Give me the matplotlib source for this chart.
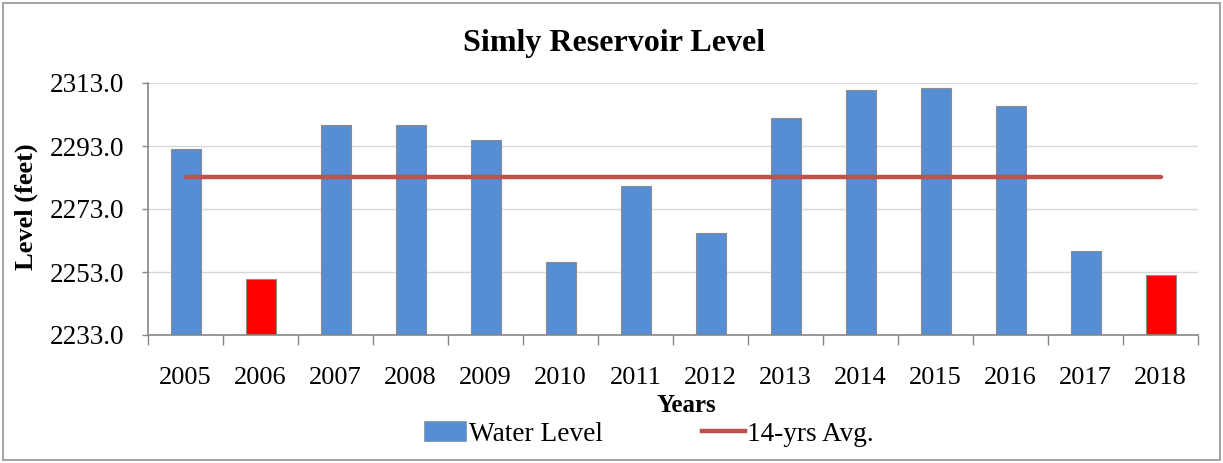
import numpy as np
import matplotlib
matplotlib.use("Agg")
import matplotlib.pyplot as plt
from matplotlib.patches import Patch, Rectangle
from matplotlib.lines import Line2D
from matplotlib.ticker import FixedLocator, FormatStrFormatter

plt.rcParams["font.family"] = ["Liberation Serif", "DejaVu Serif"]

# ── Data ──────────────────────────────────────────────────────────────────────
years = ["2005", "2006", "2007", "2008", "2009", "2010", "2011",
         "2012", "2013", "2014", "2015", "2016", "2017", "2018"]
water_level = [2292.1, 2250.9, 2299.8, 2299.8, 2295.0, 2256.3, 2280.2,
               2265.5, 2301.9, 2310.7, 2311.4, 2305.6, 2259.8, 2252.2]
avg_level = 2283.1
red_years = ["2006", "2018"]
y_ticks = [2233.0, 2253.0, 2273.0, 2293.0, 2313.0]

BLUE = "#558ED5"
RED = "#FF0000"
AVG_RED = "#C0504D"
GRAY = "#868686"

W, H = 1223, 463
fig = plt.figure(figsize=(W / 100, H / 100), dpi=100)
ax = fig.add_axes([148 / W, 1 - 335 / H, (1198 - 148) / W, (335 - 83) / H])

x = np.arange(len(years))
colors = [RED if y in red_years else BLUE for y in years]
base = y_ticks[0]
ax.bar(x, np.array(water_level) - base, bottom=base, width=0.4,
       color=colors, edgecolor="#8C8C8C", linewidth=0.8, zorder=2)
ax.plot(x, [avg_level] * len(x), color=AVG_RED, lw=3.2,
        solid_capstyle="round", zorder=3)

ax.set_xlim(-0.5, len(years) - 0.5)
ax.set_ylim(y_ticks[0], y_ticks[-1])
ax.yaxis.set_major_locator(FixedLocator(y_ticks))
ax.yaxis.set_major_formatter(FormatStrFormatter("%.1f"))
ax.grid(axis="y", color="#D9D9D9", lw=1, zorder=0)

ax.set_xticks(x)
ax.set_xticklabels(years)
ax.set_xticks(np.arange(-0.5, len(years)), minor=True)
ax.tick_params(axis="x", which="major", length=0, pad=23, labelsize=19)
ax.tick_params(axis="x", which="minor", length=7, width=1, color=GRAY,
               direction="out")
ax.tick_params(axis="y", length=4, width=1, color=GRAY, direction="out",
               pad=13, labelsize=19.5)

for s in ["top", "right"]:
    ax.spines[s].set_visible(False)
for s in ["left", "bottom"]:
    ax.spines[s].set_color(GRAY)
    ax.spines[s].set_linewidth(1.2)

fig.text(614 / W, 1 - 43 / H, "Simly Reservoir Level", ha="center",
         va="center", fontsize=23, fontweight="bold")
fig.text(686 / W, 1 - 406 / H, "Years", ha="center", va="center",
         fontsize=18, fontweight="bold")
fig.text(26 / W, 1 - 207 / H, "Level (feet)", ha="center", va="center",
         rotation=90, fontsize=19, fontweight="bold")

handles = [Patch(facecolor=BLUE, edgecolor="#8C8C8C", linewidth=0.5),
           Line2D([0], [0], color=AVG_RED, lw=3.2)]
fig.legend(handles, ["Water Level", "14-yrs Avg."], loc="center",
           bbox_to_anchor=(649 / W, 1 - 434 / H), ncol=2, frameon=False,
           fontsize=19.6, handlelength=1.55, handletextpad=0.1,
           columnspacing=3.65, borderpad=0)

fig.patches.append(Rectangle((3 / W, 3 / H), 1 - 6 / W, 1 - 6 / H,
                             transform=fig.transFigure, fill=False,
                             edgecolor="#A6A6A6", lw=1.5))

fig.savefig("out.png", dpi=100)
